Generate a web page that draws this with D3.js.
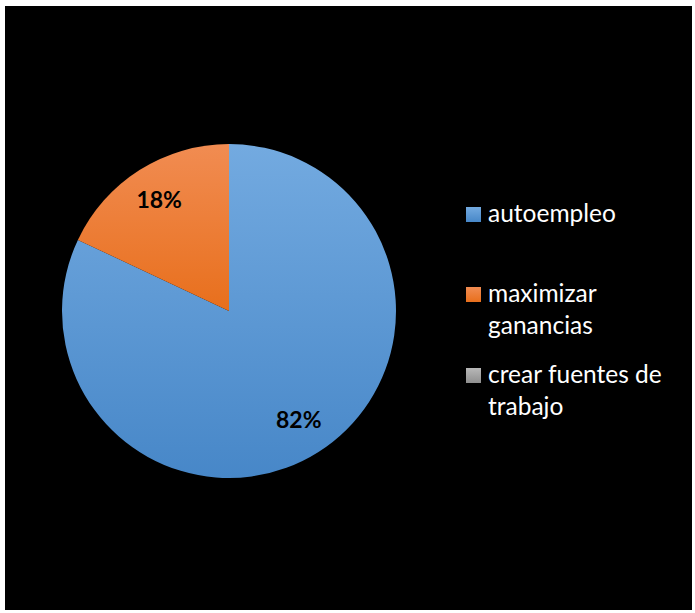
<!DOCTYPE html>
<html>
<head>
<meta charset="utf-8">
<script src="https://cdn.jsdelivr.net/npm/d3@7"></script>
<style>
  html, body { margin: 0; padding: 0; background: #ffffff; }
  svg { display: block; }
</style>
</head>
<body>
<svg id="chart" width="695" height="613"></svg>
<script>
// Motivos: share of respondents per reason
const categories = ["autoempleo", "maximizar ganancias", "crear fuentes de trabajo"];
const legendLines = [["autoempleo"], ["maximizar", "ganancias"], ["crear fuentes de", "trabajo"]];
const values = [82, 18, 0];
const labels = ["82%", "18%", ""];
const colorTop = ["#73aae0", "#f18c52", "#b8b8b8"];
const colorBottom = ["#4787c8", "#e86f1c", "#8f8f8f"];

const svg = d3.select("#chart");

// chart area background
svg.append("rect")
  .attr("x", 5).attr("y", 6)
  .attr("width", 687).attr("height", 604)
  .attr("fill", "#000000");

const defs = svg.append("defs");
categories.forEach((c, i) => {
  const g = defs.append("linearGradient")
    .attr("id", "grad" + i)
    .attr("x1", 0).attr("y1", 0).attr("x2", 0).attr("y2", 1);
  g.append("stop").attr("offset", "0%").attr("stop-color", colorTop[i]);
  g.append("stop").attr("offset", "100%").attr("stop-color", colorBottom[i]);
});

const cx = 229, cy = 311, r = 167;

const pie = d3.pie().sort(null).value(d => d)(values);
const arc = d3.arc().innerRadius(0).outerRadius(r);
const labelArc = d3.arc().innerRadius(r * 0.78).outerRadius(r * 0.78);

const g = svg.append("g").attr("transform", `translate(${cx},${cy})`);

g.selectAll("path.slice")
  .data(pie.filter(d => d.value > 0))
  .join("path")
  .attr("class", "slice")
  .attr("d", arc)
  .attr("fill", d => `url(#grad${d.index})`);

g.selectAll("text.pct")
  .data(pie.filter(d => d.value > 0))
  .join("text")
  .attr("class", "pct")
  .attr("transform", d => `translate(${labelArc.centroid(d)})`)
  .attr("text-anchor", "middle")
  .attr("dy", "0.3em")
  .attr("font-family", "Lato, 'Open Sans', sans-serif")
  .attr("font-weight", "bold")
  .attr("font-size", 23)
  .attr("fill", "#000000")
  .text(d => labels[d.index]);

// legend
const legendY = [207, 287, 368];
const lineGap = 32;
const legend = svg.append("g");
categories.forEach((c, i) => {
  legend.append("rect")
    .attr("x", 466).attr("y", legendY[i])
    .attr("width", 15).attr("height", 15)
    .attr("fill", `url(#grad${i})`);
  const t = legend.append("text")
    .attr("x", 488).attr("y", legendY[i] + 15)
    .attr("font-family", "Lato, 'Open Sans', sans-serif")
    .attr("font-size", 24.5)
    .attr("fill", "#ffffff");
  legendLines[i].forEach((line, k) => {
    t.append("tspan").attr("x", 488).attr("dy", k === 0 ? 0 : lineGap).text(line);
  });
});
</script>
</body>
</html>
